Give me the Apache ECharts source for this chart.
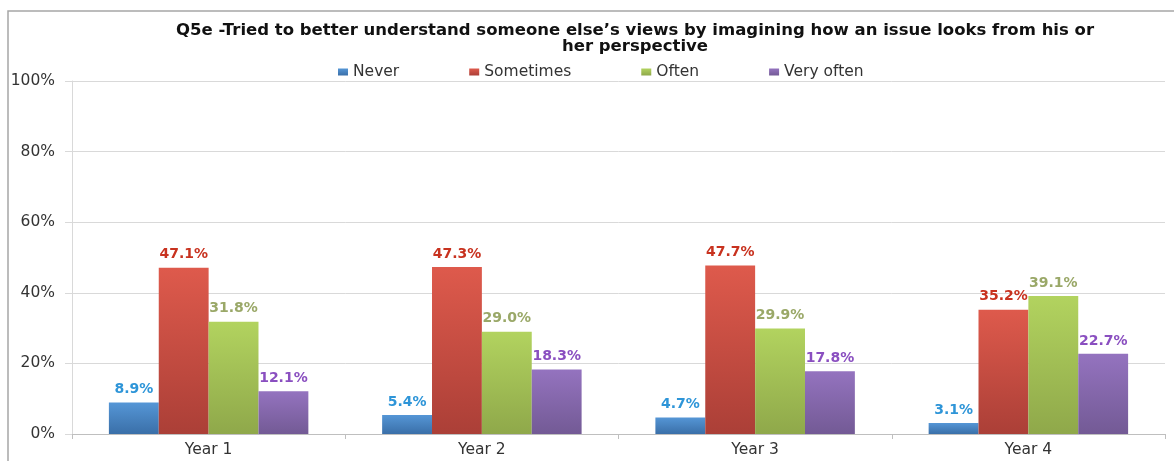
<!DOCTYPE html>
<html><head><meta charset="utf-8">
<script src="https://cdn.jsdelivr.net/npm/echarts@6/dist/echarts.min.js"></script>
<style>html,body{margin:0;padding:0;background:#fff}#c{width:1174px;height:461px}</style>
</head><body><div id="c"></div>
<script>
const titleText = 'Q5e -Tried to better understand someone else\u2019s views by imagining how an issue looks from his or\nher perspective';
const categories = ['Year 1', 'Year 2', 'Year 3', 'Year 4'];
const seriesNames = ['Never', 'Sometimes', 'Often', 'Very often'];
const never = [8.9, 5.4, 4.7, 3.1];
const sometimes = [47.1, 47.3, 47.7, 35.2];
const often = [31.8, 29.0, 29.9, 39.1];
const veryOften = [12.1, 18.3, 17.8, 22.7];
const yTicks = [0, 20, 40, 60, 80, 100];

const palette = [
  {top: '#5596d6', bot: '#3a6fa8', label: '#2e95d8'},
  {top: '#de5a4c', bot: '#ab3f37', label: '#c8321f'},
  {top: '#b2d35f', bot: '#8fa84a', label: '#9aa868'},
  {top: '#9473bf', bot: '#735a95', label: '#8a4fc0'}
];
const data = [never, sometimes, often, veryOften];

const chart = echarts.init(document.getElementById('c'), null, {renderer: 'canvas'});
chart.setOption({
  animation: false,
  backgroundColor: '#fff',
  graphic: [{type: 'rect', shape: {x: 8, y: 11, width: 1200, height: 500},
    style: {fill: 'none', stroke: '#a6a6a6', lineWidth: 1.5}, z: -1}],
  title: {
    text: titleText, left: 630, top: 18, textAlign: 'center',
    textStyle: {fontFamily: 'DejaVu Sans', fontWeight: 'bold', fontSize: 16.5, color: '#111', lineHeight: 16}
  },
  legend: {
    top: 59, left: 333, itemWidth: 10, itemHeight: 7, itemGap: 70, icon: 'rect',
    textStyle: {fontFamily: 'DejaVu Sans', fontSize: 15.5, color: '#333'},
    data: seriesNames
  },
  grid: {left: 72, right: 9, top: 81, bottom: 27},
  xAxis: {
    type: 'category', data: categories,
    axisLine: {lineStyle: {color: '#bfbfbf'}},
    axisTick: {show: true, length: 5, lineStyle: {color: '#bfbfbf'}},
    axisLabel: {fontFamily: 'DejaVu Sans', fontSize: 15.5, color: '#333', margin: 8}
  },
  yAxis: {
    type: 'value', min: 0, max: 100, interval: 20,
    axisLine: {show: true, lineStyle: {color: '#d9d9d9'}},
    axisTick: {show: true, length: 7, lineStyle: {color: '#d9d9d9'}},
    splitLine: {lineStyle: {color: '#d9d9d9'}},
    axisLabel: {formatter: v => yTicks.includes(v) ? v + '%' : '', fontFamily: 'DejaVu Sans', fontSize: 15.5, color: '#333', margin: 17}
  },
  series: seriesNames.map((n, i) => ({
    name: n, type: 'bar', data: data[i], barGap: '0%', barCategoryGap: '27%',
    itemStyle: {color: new echarts.graphic.LinearGradient(0, 0, 0, 1, [
      {offset: 0, color: palette[i].top}, {offset: 1, color: palette[i].bot}])},
    label: {show: true, position: 'top', distance: 6, formatter: p => p.value.toFixed(1) + '%',
      fontFamily: 'DejaVu Sans', fontWeight: 'bold', fontSize: 14, color: palette[i].label}
  }))
});
</script></body></html>
